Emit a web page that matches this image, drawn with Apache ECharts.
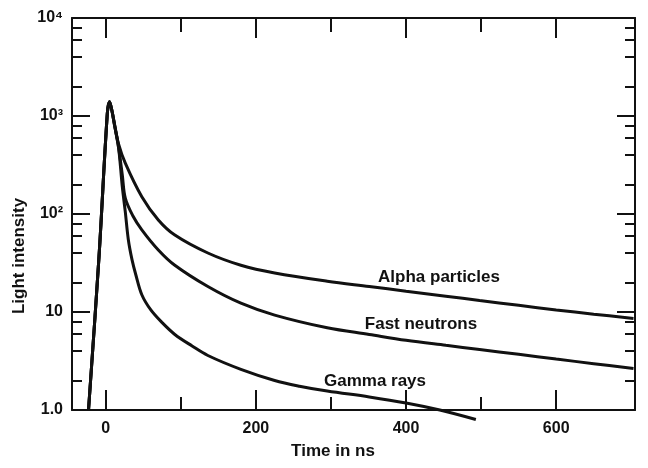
<!DOCTYPE html>
<html>
<head>
<meta charset="utf-8">
<script src="https://cdn.jsdelivr.net/npm/echarts@6/dist/echarts.min.js"></script>
<style>
  html, body { margin: 0; padding: 0; background: #fff; }
  #chart { width: 648px; height: 468px; }
</style>
</head>
<body>
<div id="chart"></div>
<script>
// time in ns, light intensity (log scale)
const alpha = [[-23, 1], [-9, 37], [2, 1050], [5, 1400], [8, 1150], [12, 800], [17, 520], [26, 330],
  [48, 150], [70, 87], [92, 61], [136, 40], [180, 30], [225, 25], [295, 20.6], [351, 18.2],
  [400, 16.3], [453, 14.5], [498, 13.1], [550, 11.7], [600, 10.5], [650, 9.5], [703, 8.6]]
const neutrons = [[-23, 1], [-9, 37], [2, 1050], [5, 1400], [8, 1150], [12, 780], [17, 480], [22, 250],
  [26, 145], [36, 96], [48, 69], [70, 43], [92, 30], [136, 18.2], [180, 12.3], [225, 9.3],
  [295, 6.9], [351, 5.9], [400, 5.15], [453, 4.57], [498, 4.14], [550, 3.7], [600, 3.31],
  [650, 2.97], [703, 2.65]]
const gamma = [[-23, 1], [-9, 37], [2, 1050], [5, 1400], [8, 1150], [12, 780], [17, 480], [22, 190],
  [26, 105], [30, 55], [35, 34], [40, 24], [48, 15], [60, 10.5], [75, 7.8], [92, 5.9], [115, 4.5],
  [136, 3.6], [180, 2.6], [225, 2.0], [258, 1.75], [295, 1.56], [351, 1.36], [400, 1.18],
  [445, 1.0], [493, 0.8]]

const xLabels = [0, 200, 400, 600]
const xMinorTicks = [100, 300, 500]
const yTickLabels = { 1: '1.0', 10: '10', 100: '10²', 1000: '10³', 10000: '10⁴' }
const yMinorSteps = [2, 4, 6, 8]

const font = 'Liberation Sans'
const ink = '#111'

// minor tick positions (in decades) for the helper axes
const yMinor = []
for (let d = 0; d < 4; d++) yMinorSteps.forEach(s => yMinor.push(d + Math.log10(s)))

const chart = echarts.init(document.getElementById('chart'))

const line = { color: ink, width: 2 }
const noLine = { show: false, onZero: false }
const xBase = { type: 'value', min: -45, max: 705, splitLine: { show: false } }
const yLog = { type: 'log', logBase: 10, min: 1, max: 10000, splitLine: { show: false } }
const yHelp = { type: 'value', min: 0, max: 4, splitLine: { show: false },
  axisLine: noLine, axisLabel: { show: false } }

function curve(name, data, clip) {
  return {
    name, type: 'line', data, showSymbol: false, smooth: 0.35,
    clip, lineStyle: { color: ink, width: 3 }, itemStyle: { color: ink }
  }
}

function txt(text, x, y, size, rotation) {
  return { type: 'text', x, y, rotation: rotation || 0, style: { text, align: 'center',
    verticalAlign: 'middle', font: `bold ${size}px "${font}"`, fill: ink } }
}

chart.setOption({
  backgroundColor: '#fff',
  animation: false,
  grid: { left: 72, right: 13, top: 18, bottom: 58 },
  xAxis: [
    { ...xBase, position: 'bottom', axisLine: { onZero: false, lineStyle: line },
      axisTick: { inside: true, length: 20, lineStyle: line, customValues: xLabels },
      axisLabel: { customValues: xLabels, color: ink, fontFamily: font, fontWeight: 'bold',
        fontSize: 16, margin: 11 } },
    { ...xBase, position: 'bottom', axisLine: noLine, axisLabel: { show: false },
      axisTick: { inside: true, length: 13, lineStyle: line, customValues: xMinorTicks } },
    { ...xBase, position: 'top', axisLine: { onZero: false, lineStyle: line }, axisLabel: { show: false },
      axisTick: { inside: true, length: 20, lineStyle: line, customValues: xLabels } },
    { ...xBase, position: 'top', axisLine: noLine, axisLabel: { show: false },
      axisTick: { inside: true, length: 14, lineStyle: line, customValues: xMinorTicks } }
  ],
  yAxis: [
    { ...yLog, position: 'left', axisLine: { onZero: false, lineStyle: line },
      axisTick: { inside: true, length: 18, lineStyle: line },
      axisLabel: { formatter: v => yTickLabels[Math.round(v)] || '', color: ink,
        fontFamily: font, fontWeight: 'bold', fontSize: 16, margin: 9 } },
    { ...yLog, position: 'right', axisLine: { onZero: false, lineStyle: line }, axisLabel: { show: false },
      axisTick: { inside: true, length: 18, lineStyle: line } },
    { ...yHelp, position: 'left',
      axisTick: { inside: true, length: 10, lineStyle: line, customValues: yMinor } },
    { ...yHelp, position: 'right',
      axisTick: { inside: true, length: 10, lineStyle: line, customValues: yMinor } }
  ],
  series: [
    curve('Alpha particles', alpha, true),
    curve('Fast neutrons', neutrons, true),
    curve('Gamma rays', gamma, false)
  ],
  graphic: [
    txt('Alpha particles', 439, 277, 17),
    txt('Fast neutrons', 421, 324, 17),
    txt('Gamma rays', 375, 381, 17),
    txt('Time in ns', 333, 451, 17),
    txt('Light intensity', 19, 256, 17, Math.PI / 2)
  ]
})
</script>
</body>
</html>
